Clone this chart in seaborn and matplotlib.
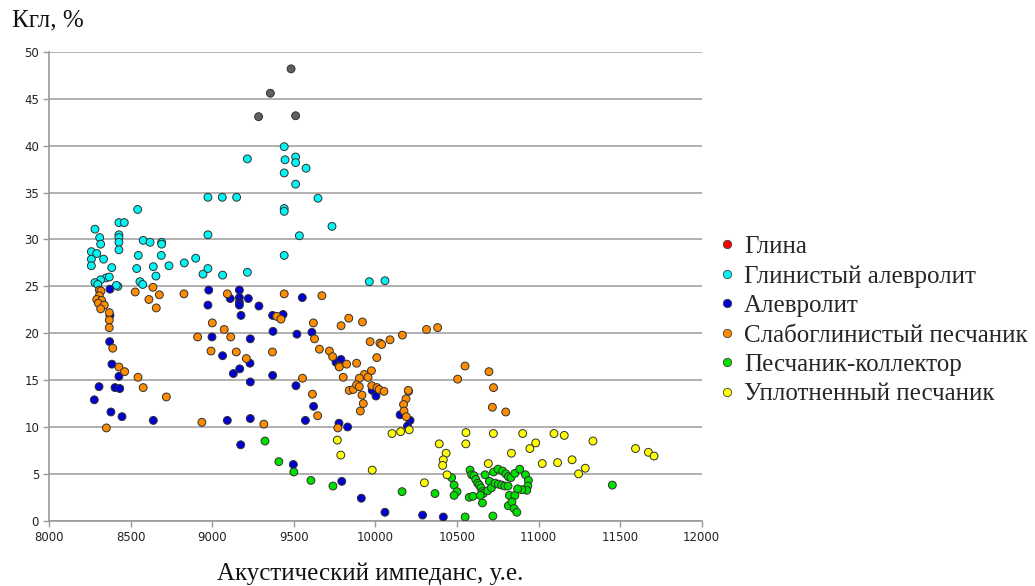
import matplotlib
matplotlib.use("Agg")
import matplotlib.pyplot as plt
from matplotlib.lines import Line2D
import seaborn as sns
import pandas as pd

# Lithotype names (legend order)
lithotypes = [
    "Глина",
    "Глинистый алевролит",
    "Алевролит",
    "Слабоглинистый песчаник",
    "Песчаник-коллектор",
    "Уплотненный песчаник",
]

# Глина
clay_ai = [9482, 9355, 9283, 9510]
clay_k = [48.2, 45.6, 43.1, 43.2]

# Глинистый алевролит
clay_silt_ai = [8257, 8290, 8257, 8332, 8257, 8382, 8279, 8308, 8314, 8426, 8459,
                8426, 8426, 8426, 8426, 8541, 8575, 8617, 8688, 8688, 8545, 8686,
                8535, 8637, 8733, 8827, 8897, 8972, 8942, 8972, 9062, 9214, 8653,
                8347, 8367, 8314, 8279, 8296, 8555, 8572, 8420, 8410, 8972, 9060,
                9148, 9214, 9440, 9445, 9510, 9510, 9574, 9440, 9510, 9647, 9440,
                9440, 9733, 9533, 9440, 9962, 10058]
clay_silt_k = [28.7, 28.5, 27.9, 27.9, 27.2, 27.0, 31.1, 30.2, 29.5, 31.8, 31.8,
               30.5, 30.2, 29.7, 28.9, 33.2, 29.9, 29.7, 29.7, 29.5, 28.3, 28.3,
               26.9, 27.1, 27.2, 27.5, 28.0, 30.5, 26.3, 26.9, 26.2, 26.5, 26.1,
               25.9, 26.0, 25.7, 25.4, 25.2, 25.5, 25.2, 25.0, 25.1, 34.5, 34.5,
               34.5, 38.6, 39.9, 38.5, 38.8, 38.2, 37.6, 37.1, 35.9, 34.4, 33.3,
               33.0, 31.4, 30.4, 28.3, 25.5, 25.6]

# Алевролит
silt_ai = [8371, 8371, 8369, 8383, 8426, 8304, 8402, 8431, 8275, 8377, 8445, 8637,
           8977, 8972, 8997, 9062, 9128, 9167, 9165, 9109, 9165, 9165, 9165, 9175,
           9220, 9285, 9232, 9230, 9232, 9091, 9232, 9173, 9369, 9433, 9371, 9369,
           9518, 9512, 9496, 9551, 9610, 9620, 9570, 9758, 9788, 9776, 9829, 9980,
           10003, 10151, 10212, 10196, 9793, 9913, 10058, 10289, 10416]
silt_k = [24.7, 21.9, 19.1, 16.7, 15.4, 14.3, 14.2, 14.1, 12.9, 11.6, 11.1, 10.7,
          24.6, 23.0, 19.6, 17.6, 15.7, 16.2, 24.6, 23.7, 23.8, 23.3, 23.0, 21.9,
          23.7, 22.9, 19.4, 16.8, 14.8, 10.7, 10.9, 8.1, 21.9, 22.0, 20.2, 15.5,
          19.9, 14.4, 6.0, 23.8, 20.1, 12.2, 10.7, 16.9, 17.2, 10.4, 10.0, 13.9,
          13.3, 11.3, 10.7, 10.1, 4.2, 2.4, 0.9, 0.6, 0.4]

# Слабоглинистый песчаник
weak_sand_ai = [8306, 8316, 8306, 8290, 8320, 8300, 8336, 8314, 8367, 8367, 8367,
                8388, 8426, 8461, 8543, 8575, 8717, 8349, 8526, 8635, 8610, 8674,
                8655, 8825, 9091, 9112, 9072, 8999, 8909, 8991, 9146, 9208, 9368,
                9440, 9394, 9420, 8935, 9315, 9671, 9619, 9789, 9836, 9920, 9626,
                9967, 10027, 10038, 10089, 10165, 10313, 10381, 9656, 9717, 9737,
                9776, 9778, 9823, 9884, 10008, 9975, 9932, 9954, 9901, 9802, 9552,
                9839, 9864, 9884, 9901, 9917, 9925, 9907, 9977, 10009, 10022, 10052,
                9613, 9645, 9769, 10203, 10201, 10187, 10172, 10175, 10189, 10549,
                10504, 10696, 10724, 10717, 10799]
weak_sand_k = [24.6, 24.5, 24.0, 23.6, 23.5, 23.2, 23.0, 22.6, 22.2, 21.4, 20.6,
               18.4, 16.4, 15.9, 15.3, 14.2, 13.2, 9.9, 24.4, 24.9, 23.6, 24.1,
               22.7, 24.2, 24.2, 19.6, 20.4, 21.1, 19.6, 18.1, 18.0, 17.3, 18.0,
               24.2, 21.8, 21.5, 10.5, 10.3, 24.0, 21.1, 20.8, 21.6, 21.2, 19.4,
               19.1, 18.95, 18.8, 19.3, 19.8, 20.4, 20.6, 18.3, 18.1, 17.5,
               16.5, 16.4, 16.7, 16.8, 17.4, 16.0, 15.6, 15.3, 15.2, 15.3, 15.2,
               13.9, 14.0, 14.5, 14.3, 13.4, 12.5, 11.7, 14.4, 14.2, 14.0, 13.8,
               13.5, 11.2, 9.9, 13.8, 13.9, 13.0, 12.4, 11.7, 11.1, 16.5,
               15.1, 15.9, 14.2, 12.1, 11.6]

# Песчаник-коллектор
reservoir_ai = [9322, 9407, 9499, 9604, 9739, 10163, 10365, 10550, 10720, 10467,
                10482, 10500, 10482, 10580, 10590, 10604, 10615, 10627, 10637,
                10647, 10655, 10661, 10575, 10597, 10656, 10672, 10688, 10699,
                10711, 10724, 10733, 10752, 10754, 10780, 10774, 10800, 10793,
                10815, 10813, 10831, 10821, 10855, 10815, 10837, 10850, 10867,
                10855, 10885, 10920, 10938, 10934, 10928, 10898, 10872, 11453,
                10643]
reservoir_k = [8.5, 6.3, 5.2, 4.3, 3.7, 3.1, 2.9, 0.4, 0.5, 4.6,
               3.8, 3.1, 2.7, 5.4, 4.9, 4.8, 4.4, 4.0, 3.8,
               3.5, 3.1, 2.9, 2.5, 2.6, 1.9, 4.9, 3.2, 4.2,
               3.5, 5.2, 4.0, 5.5, 3.9, 5.3, 3.8, 5.0, 3.7,
               4.7, 3.7, 4.6, 2.7, 2.7, 1.6, 2.0, 1.3, 0.9,
               5.05, 5.5, 4.9, 4.3, 3.7, 3.25, 3.3, 3.4, 3.8,
               2.7]

# Уплотненный песчаник
tight_sand_ai = [9766, 9787, 9980, 10101, 10154, 10207, 10300, 10391, 10433, 10416,
                 10412, 10439, 10555, 10554, 10723, 10692, 10834, 10903, 10947,
                 10983, 11023, 11095, 11117, 11158, 11206, 11246, 11287, 11334,
                 11595, 11674, 11709]
tight_sand_k = [8.6, 7.0, 5.4, 9.3, 9.5, 9.7, 4.05, 8.2, 7.2, 6.5,
                5.9, 4.9, 9.4, 8.2, 9.3, 6.1, 7.2, 9.3, 7.7,
                8.3, 6.1, 9.3, 6.2, 9.1, 6.5, 5.0, 5.6, 8.5,
                7.7, 7.3, 6.9]

series = [
    (clay_ai, clay_k),
    (clay_silt_ai, clay_silt_k),
    (silt_ai, silt_k),
    (weak_sand_ai, weak_sand_k),
    (reservoir_ai, reservoir_k),
    (tight_sand_ai, tight_sand_k),
]

point_colors = ["#606060", "#00F5F5", "#0000D0", "#FF8C00", "#00E000", "#FFFF00"]
legend_colors = ["#FF0000", "#00F5F5", "#0000D0", "#FF8C00", "#00E000", "#FFFF00"]

frames = []
for name, (ai, k) in zip(lithotypes, series):
    frames.append(pd.DataFrame({"ai": ai, "k": k, "litho": name}))
df = pd.concat(frames, ignore_index=True)

sns.set_theme(style="white")
plt.rcParams["font.family"] = ["DejaVu Sans"]

fig = plt.figure(figsize=(10.35, 5.86), dpi=100)
ax = fig.add_axes([0.0478, 0.1114, 0.6300, 0.7999])

sns.scatterplot(
    data=df, x="ai", y="k", hue="litho", hue_order=lithotypes,
    palette=dict(zip(lithotypes, point_colors)),
    s=32, edgecolor="#303030", linewidth=0.7, legend=False, ax=ax, zorder=3,
)

ax.set_xlim(8000, 12000)
ax.set_ylim(0, 50)
ax.set_xticks(range(8000, 12001, 500))
ax.set_yticks(range(0, 51, 5))
ax.yaxis.grid(True, color="#aaaaaa", linewidth=1.3)
ax.xaxis.grid(False)
ax.set_axisbelow(True)
for side in ("top", "right"):
    ax.spines[side].set_visible(False)
for side in ("left", "bottom"):
    ax.spines[side].set_color("#999999")
    ax.spines[side].set_linewidth(1.2)
ax.tick_params(axis="both", labelsize=8.5, colors="#999999", labelcolor="#222222",
               length=4, width=1, direction="out", bottom=True, left=True)
ax.set_xlabel("")
ax.set_ylabel("")

serif = ["Liberation Serif", "DejaVu Serif"]
fig.text(370 / 1035, 1 - 574 / 586, "Акустический импеданс, у.е.",
         ha="center", va="center", fontsize=18, family=serif, color="#111111")
fig.text(12 / 1035, 1 - 20 / 586, "Кгл, %", ha="left", va="center",
         fontsize=18, family=serif, color="#111111")

handles = [Line2D([0], [0], marker="o", linestyle="none", markersize=6,
                  markerfacecolor=c, markeredgecolor="#404040", markeredgewidth=0.6)
           for c in legend_colors]
fig.legend(handles, lithotypes, loc="center left",
           bbox_to_anchor=(719 / 1035, 1 - 320.5 / 586), frameon=False,
           prop={"family": serif, "size": 18}, handlelength=0.6,
           handletextpad=0.4, labelspacing=0.28, borderpad=0, borderaxespad=0)

fig.savefig("out.png", dpi=100)
